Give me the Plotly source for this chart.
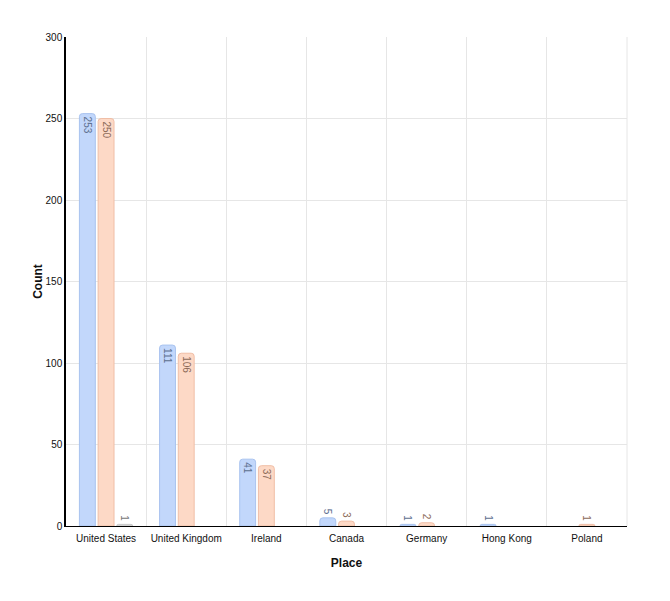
import plotly.graph_objects as go

places = ["United States", "United Kingdom", "Ireland", "Canada", "Germany", "Hong Kong", "Poland"]
series_a = [253, 111, 41, 5, 1, 1, None]
series_b = [250, 106, 37, 3, 2, None, 1]
series_c = [1, None, None, None, None, None, None]
y_ticks = [0, 50, 100, 150, 200, 250, 300]

FONT = "Liberation Sans, Arial, Helvetica, sans-serif"

def bar(vals, fill, line, tcolor):
    return go.Bar(
        x=places, y=vals,
        marker=dict(color=fill, line=dict(color=line, width=1), cornerradius=3),
        text=[("" if v is None else str(v)) for v in vals],
        textposition="auto", insidetextanchor="end", textangle=90,
        constraintext="none",
        textfont=dict(family=FONT, size=10, color=tcolor),
        cliponaxis=False, showlegend=False, hoverinfo="x+y",
    )

fig = go.Figure([
    bar(series_a, "#c2d7fb", "#a9c3ef", "#5d6f8f"),
    bar(series_b, "#fdd9c6", "#f0bea6", "#8c6a58"),
    bar(series_c, "#dcdcdc", "#c8c8c8", "#777777"),
])

fig.update_layout(
    width=670, height=601,
    margin=dict(l=66, r=43, t=37, b=75),
    paper_bgcolor="white", plot_bgcolor="white",
    barmode="group", bargap=0.3, bargroupgap=0.15,
    font=dict(family=FONT, size=10, color="#111"),
    xaxis=dict(
        title=dict(text="<b>Place</b>", font=dict(size=12, color="#111"), standoff=15),
        tickson="boundaries", showgrid=True, gridcolor="#e6e6e6", gridwidth=1,
        showline=True, linecolor="#000", linewidth=1, ticks="",
        ticklabelstandoff=3,
        tickfont=dict(size=10, color="#111"), fixedrange=True,
    ),
    yaxis=dict(
        title=dict(text="<b>Count</b>", font=dict(size=12, color="#111"), standoff=0),
        range=[0, 300], tickvals=y_ticks, showgrid=True, gridcolor="#e6e6e6",
        showline=True, linecolor="#000", linewidth=1.5, ticks="", zeroline=False,
        tickfont=dict(size=10, color="#111"), fixedrange=True,
    ),
)
fig.add_shape(type="line", xref="paper", yref="paper", x0=1, x1=1, y0=0, y1=1,
              line=dict(color="#e6e6e6", width=1), layer="below")

fig.write_html("out.html", config={"displayModeBar": False},
               post_script="document.body.style.margin='0';")
